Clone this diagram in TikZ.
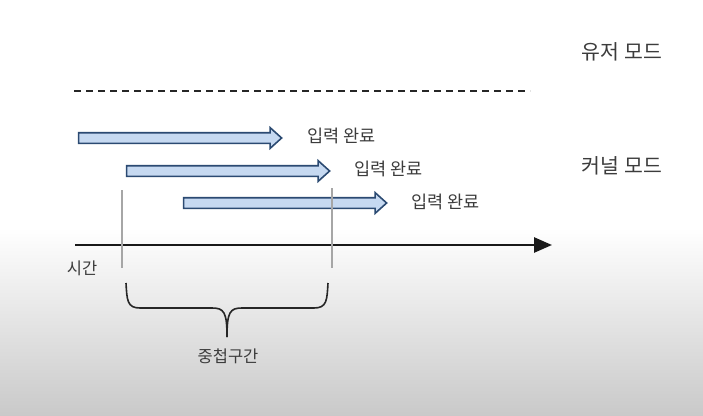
\documentclass[tikz,border=0pt]{standalone}
\usepackage{fontspec}
\newfontfamily\kfont{Noto Sans CJK KR}
\usetikzlibrary{shapes.arrows,arrows.meta,positioning}
\definecolor{arrowfill}{HTML}{C6D9F1}
\definecolor{arrowline}{HTML}{2B4A72}
\definecolor{txt}{HTML}{3C3C3C}
\tikzset{
    taskarrow/.style={single arrow, draw=arrowline, fill=arrowfill, line width=1.6pt,
        minimum width=20pt, single arrow head extend=5pt, single arrow tip angle=84,
        single arrow head indent=0pt, inner xsep=0pt, inner ysep=4.5pt,
        minimum height=203pt, anchor=west},
    donelabel/.style={font=\kfont\fontsize{17.5}{20}\selectfont, text=txt, inner sep=0pt, anchor=west},
    modelabel/.style={font=\kfont\fontsize{20.5}{24}\selectfont, text=txt, inner sep=0pt},
    smalllabel/.style={font=\kfont\fontsize{16.5}{19}\selectfont, text=txt, inner sep=0pt},
    marker/.style={gray!70, line width=1.3pt},
    bracepen/.style={line width=1.6pt, black!85},
}
\begin{document}
\begin{tikzpicture}[x=1pt, y=-1pt]
\useasboundingbox (0,0) rectangle (703,415);
% background
\fill[white] (0,0) rectangle (703,415);
\shade[top color=white, bottom color=black!21] (0,228) rectangle (703,415);
% modes
\node[modelabel] (user) at (622,52) {유저 모드};
\node[modelabel] (kernel) at (622,166) {커널 모드};
\draw[line width=1.8pt, black!85, dash pattern=on 7pt off 5pt] (74,91) -- (530,91);
% requests
\node[taskarrow] (a1) at (77.8,138) {};
\node[taskarrow] (a2) at (125.8,171) {};
\node[taskarrow] (a3) at (182.8,203) {};
\node[donelabel] (done1) at (307,136) {입력 완료};
\node[donelabel] (done2) at (354,169) {입력 완료};
\node[donelabel] (done3) at (411,202) {입력 완료};
% time axis
\coordinate (t0) at (75,245);
\coordinate (t1) at (552,245);
\draw[line width=2.6pt, black!90, -{Triangle[length=18pt,width=15pt]}] (t0) -- (t1);
\node[smalllabel] (time) at (82,268) {시간};
% overlap
\coordinate (s0) at (122,190);
\coordinate (s1) at (122,268);
\coordinate (e0) at (332,188);
\coordinate (e1) at (332,268);
\draw[marker] (s0) -- (s1);
\draw[marker] (e0) -- (e1);
\draw[bracepen] (126,283) .. controls (127,300) and (127,308) .. (140,308) -- (212,308)
    .. controls (224,308) and (227,312) .. (227,337);
\draw[bracepen] (328,283) .. controls (327,300) and (327,308) .. (314,308) -- (242,308)
    .. controls (230,308) and (227,312) .. (227,337);
\node[smalllabel] (overlap) at (228,356) {중첩구간};
\end{tikzpicture}
\end{document}
